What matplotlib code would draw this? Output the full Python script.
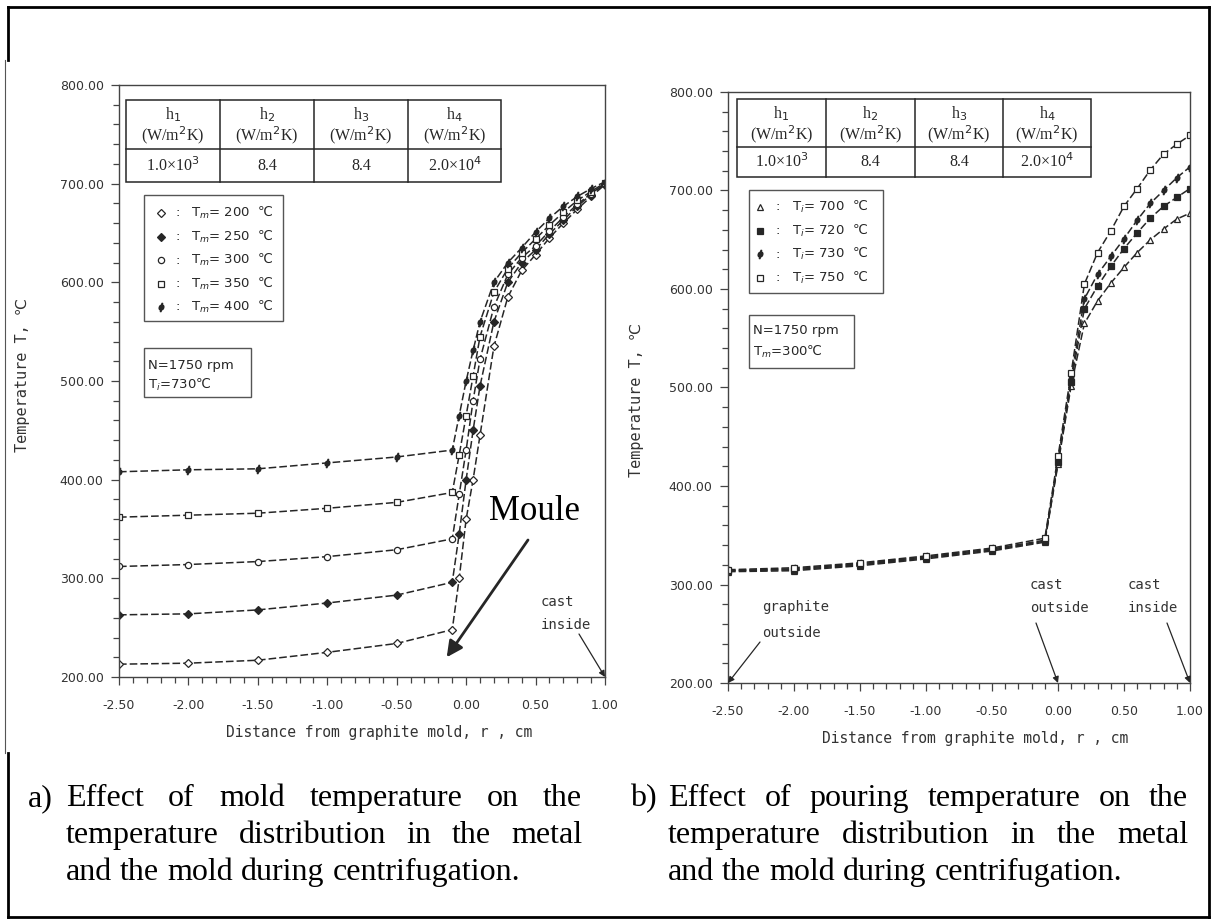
import matplotlib
matplotlib.use('Agg')
import matplotlib.pyplot as plt
from matplotlib.patches import Rectangle
from matplotlib.lines import Line2D
from matplotlib.ticker import MultipleLocator, FormatStrFormatter

W, H = 1213, 924

# panel a) : effect of mold temperature (T_i = 730 C)
r_a = [-2.5, -2.0, -1.5, -1.0, -0.5, -0.1, -0.05, 0.0, 0.05, 0.1, 0.2, 0.3,
       0.4, 0.5, 0.6, 0.7, 0.8, 0.9, 1.0]
T_m200 = [213, 214, 217, 225, 234, 248, 300, 360, 400, 445, 535, 585, 612, 628, 645, 660, 674, 687, 699]
T_m250 = [263, 264, 268, 275, 283, 296, 345, 400, 450, 495, 560, 600, 620, 633, 649, 663, 677, 689, 700]
T_m300 = [312, 314, 317, 322, 329, 340, 385, 430, 480, 522, 575, 608, 625, 637, 652, 666, 679, 690, 700]
T_m350 = [362, 364, 366, 371, 377, 387, 425, 465, 505, 545, 590, 614, 630, 644, 658, 671, 683, 692, 701]
T_m400 = [408, 410, 411, 417, 423, 430, 465, 500, 531, 560, 600, 620, 635, 651, 665, 677, 687, 695, 702]
mold_temps = ['200', '250', '300', '350', '400']

# panel b) : effect of pouring temperature
r_b = [-2.5, -2.0, -1.5, -1.0, -0.5, -0.1, 0.0, 0.1, 0.2, 0.3, 0.4, 0.5, 0.6,
       0.7, 0.8, 0.9, 1.0]
T_i700 = [313, 314, 319, 326, 334, 343, 422, 502, 565, 588, 606, 622, 637, 650, 661, 671, 677]
T_i720 = [314, 315, 320, 327, 335, 344, 424, 506, 580, 603, 623, 641, 657, 672, 684, 693, 702]
T_i730 = [314, 316, 321, 328, 336, 345, 426, 510, 590, 615, 633, 651, 670, 687, 700, 713, 724]
T_i750 = [315, 317, 322, 329, 337, 347, 430, 515, 605, 637, 659, 684, 702, 721, 737, 747, 756]
pour_temps = ['700', '720', '730', '750']

h_names = ['h$_1$', 'h$_2$', 'h$_3$', 'h$_4$']
h_values = ['1.0×10$^3$', '8.4', '8.4', '2.0×10$^4$']

ink = '#262626'
grey_txt = '#333333'
mono = ['DejaVu Sans Mono', 'DejaVu Sans']
serif = 'Liberation Serif'


def fx(x):
    return x / W


def fy(y):
    return 1 - y / H


fig = plt.figure(figsize=(W / 100, H / 100), dpi=100)


def hline(x0, x1, y, **kw):
    fig.add_artist(Line2D([fx(x0), fx(x1)], [fy(y), fy(y)], **kw))


def vline(x, y0, y1, **kw):
    fig.add_artist(Line2D([fx(x), fx(x)], [fy(y0), fy(y1)], **kw))


# outer frame of the page
hline(8, 1209, 7, color='k', lw=2)
hline(8, 1209, 917, color='k', lw=2)
vline(1209, 7, 917, color='k', lw=2)
vline(8, 7, 60, color='k', lw=2)
vline(8, 753, 917, color='k', lw=2)
vline(5, 60, 753, color='#555555', lw=0.8)


def make_axes(x0, x1, y0, y1):
    ax = fig.add_axes([fx(x0), fy(y1), (x1 - x0) / W, (y1 - y0) / H])
    ax.set_xlim(-2.5, 1.0)
    ax.set_ylim(200, 800)
    ax.xaxis.set_major_locator(MultipleLocator(0.5))
    ax.xaxis.set_minor_locator(MultipleLocator(0.1))
    ax.yaxis.set_major_locator(MultipleLocator(100))
    ax.yaxis.set_minor_locator(MultipleLocator(20))
    ax.xaxis.set_major_formatter(FormatStrFormatter('%.2f'))
    ax.yaxis.set_major_formatter(FormatStrFormatter('%.2f'))
    ax.tick_params(which='both', direction='out', color='#444444', width=0.9)
    ax.tick_params(which='major', length=6)
    ax.tick_params(which='minor', length=4)
    ax.tick_params(axis='x', which='major', pad=10)
    ax.tick_params(axis='y', which='major', pad=5)
    for lab in ax.get_xticklabels() + ax.get_yticklabels():
        lab.set_fontfamily('DejaVu Sans')
        lab.set_fontsize(9)
        lab.set_color(grey_txt)
    for sp in ax.spines.values():
        sp.set_color('#444444')
        sp.set_linewidth(1.0)
    ax.patch.set_alpha(0)
    return ax


def draw_table(x0, x1, y0, y1, cols, ymid):
    fig.add_artist(Rectangle((fx(x0), fy(y1)), (x1 - x0) / W, (y1 - y0) / H,
                             transform=fig.transFigure, fill=False, ec=ink, lw=1.1))
    hline(x0, x1, ymid, color=ink, lw=1.1)
    for c in cols:
        vline(c, y0, y1, color=ink, lw=1.1)
    edges = [x0] + cols + [x1]
    for i in range(4):
        cx = (edges[i] + edges[i + 1]) / 2
        fig.text(fx(cx), fy(y0 + 15), h_names[i], ha='center', va='center',
                 family=serif, fontsize=11.5, color=ink)
        fig.text(fx(cx), fy(y0 + 35), '(W/m$^2$K)', ha='center', va='center',
                 family=serif, fontsize=11.5, color=ink)
        fig.text(fx(cx), fy((ymid + y1) / 2), h_values[i], ha='center', va='center',
                 family=serif, fontsize=11.5, color=ink)


def draw_box(x0, x1, y0, y1):
    fig.add_artist(Rectangle((fx(x0), fy(y1)), (x1 - x0) / W, (y1 - y0) / H,
                             transform=fig.transFigure, fill=False, ec='#555555', lw=1.0))


def arrow_to(ax, xy, xtext, ytext, lw=0.9, scale=9):
    ax.annotate('', xy=xy, xycoords='data', xytext=(fx(xtext), fy(ytext)),
                textcoords='figure fraction', annotation_clip=False,
                arrowprops=dict(arrowstyle='-|>', color=ink, lw=lw,
                                mutation_scale=scale, shrinkA=0, shrinkB=0))


# ---------------- panel a ----------------
ax_a = make_axes(119, 605, 85, 677)
a_series = [T_m200, T_m250, T_m300, T_m350, T_m400]
a_marks = [('D', 'white', 4), ('D', ink, 4), ('o', 'white', 4.5), ('s', 'white', 5), ('$\\phi$', ink, 6)]
for T, (m, fc, ms) in zip(a_series, a_marks):
    ax_a.plot(r_a, T, color=ink, lw=1.1, ls=(0, (5, 2)), marker=m, ms=ms,
              mfc=fc, mec=ink, mew=0.9)

draw_table(126, 501, 100, 182, [220, 314, 408], 149)
draw_box(144, 283, 195, 321)
for i, (t, (m, fc, ms)) in enumerate(zip(mold_temps, a_marks)):
    y = 213 + i * 23.5
    fig.add_artist(Line2D([fx(161)], [fy(y)], marker=m, ms=ms, mfc=fc, mec=ink,
                          mew=0.9, ls='none'))
    fig.text(fx(178), fy(y), ':', ha='center', va='center', fontsize=9.5, color=ink)
    fig.text(fx(191), fy(y), 'T$_m$= ' + t + '  ℃', ha='left', va='center',
             fontsize=9.5, color=ink)
draw_box(144, 251, 348, 397)
fig.text(fx(148), fy(365), 'N=1750 rpm', ha='left', va='center', fontsize=9.5, color=ink)
fig.text(fx(148), fy(385), 'T$_i$=730℃', ha='left', va='center', fontsize=9.5, color=ink)

fig.text(fx(23), fy(375), 'Temperature T, ℃', rotation=90, ha='center', va='center',
         family=mono, fontsize=11, color=grey_txt)
fig.text(fx(379), fy(733), 'Distance from graphite mold, r , cm', ha='center',
         va='center', family=mono, fontsize=10.5, color=grey_txt)

fig.text(fx(541), fy(602), 'cast', ha='left', va='center', family=mono, fontsize=10, color=grey_txt)
fig.text(fx(541), fy(625), 'inside', ha='left', va='center', family=mono, fontsize=10, color=grey_txt)
arrow_to(ax_a, (1.0, 200), 579, 634)

fig.text(fx(534), fy(512), 'Moule', ha='center', va='center', family=serif,
         fontsize=25, color='k')
arrow_to(ax_a, (-0.14, 220), 528, 540, lw=2, scale=24)

# ---------------- panel b ----------------
ax_b = make_axes(728, 1190, 92, 683)
b_series = [T_i700, T_i720, T_i730, T_i750]
b_marks = [('^', 'white', 4.5), ('s', ink, 4), ('$\\phi$', ink, 6), ('s', 'white', 5)]
for T, (m, fc, ms) in zip(b_series, b_marks):
    ax_b.plot(r_b, T, color=ink, lw=1.1, ls=(0, (5, 2)), marker=m, ms=ms,
              mfc=fc, mec=ink, mew=0.9)

draw_table(737, 1091, 99, 177, [826, 915, 1003], 147)
draw_box(749, 883, 190, 293)
for i, (t, (m, fc, ms)) in enumerate(zip(pour_temps, b_marks)):
    y = 207 + i * 23.5
    fig.add_artist(Line2D([fx(760)], [fy(y)], marker=m, ms=ms, mfc=fc, mec=ink,
                          mew=0.9, ls='none'))
    fig.text(fx(778), fy(y), ':', ha='center', va='center', fontsize=9.5, color=ink)
    fig.text(fx(792), fy(y), 'T$_i$= ' + t + '  ℃', ha='left', va='center',
             fontsize=9.5, color=ink)
draw_box(749, 854, 315, 368)
fig.text(fx(753), fy(330), 'N=1750 rpm', ha='left', va='center', fontsize=9.5, color=ink)
fig.text(fx(753), fy(352), 'T$_m$=300℃', ha='left', va='center', fontsize=9.5, color=ink)

fig.text(fx(637), fy(400), 'Temperature T, ℃', rotation=90, ha='center', va='center',
         family=mono, fontsize=11, color=grey_txt)
fig.text(fx(975), fy(738), 'Distance from graphite mold, r , cm', ha='center',
         va='center', family=mono, fontsize=10.5, color=grey_txt)

for x, y1, y2, xa, ya, target in [(762, 'graphite', 'outside', 760, 642, (-2.5, 200)),
                                  (1030, 'cast', 'outside', 1036, 623, (0.0, 200)),
                                  (1128, 'cast', 'inside', 1167, 623, (1.0, 200))]:
    fig.text(fx(x), fy(585 if y1 == 'cast' else 607), y1, ha='left', va='center',
             family=mono, fontsize=10, color=grey_txt)
    fig.text(fx(x), fy(608 if y1 == 'cast' else 633), y2, ha='left', va='center',
             family=mono, fontsize=10, color=grey_txt)
    arrow_to(ax_b, target, xa, ya)

# ---------------- captions ----------------
renderer = fig.canvas.get_renderer()
cap_size = 23


def put_line(text, x0, x1, y, justify):
    words = text.split()
    items = [fig.text(0, fy(y), w, family=serif, fontsize=cap_size, va='baseline', color='k')
             for w in words]
    widths = [t.get_window_extent(renderer).width for t in items]
    if justify and len(words) > 1:
        gap = (x1 - x0 - sum(widths)) / (len(words) - 1)
    else:
        gap = cap_size * 100 / 72 * 0.25
    x = x0
    for t, w in zip(items, widths):
        t.set_x(fx(x))
        x += w + gap


fig.text(fx(28), fy(806), 'a)', family=serif, fontsize=cap_size, va='baseline')
put_line('Effect of mold temperature on the', 66, 582, 806, True)
put_line('temperature distribution in the metal', 66, 582, 843, True)
put_line('and the mold during centrifugation.', 66, 582, 880, False)

fig.text(fx(630), fy(806), 'b)', family=serif, fontsize=cap_size, va='baseline')
put_line('Effect of pouring temperature on the', 668, 1188, 806, True)
put_line('temperature distribution in the metal', 668, 1188, 843, True)
put_line('and the mold during centrifugation.', 668, 1188, 880, False)

fig.savefig('out.png', dpi=100, facecolor='white')
